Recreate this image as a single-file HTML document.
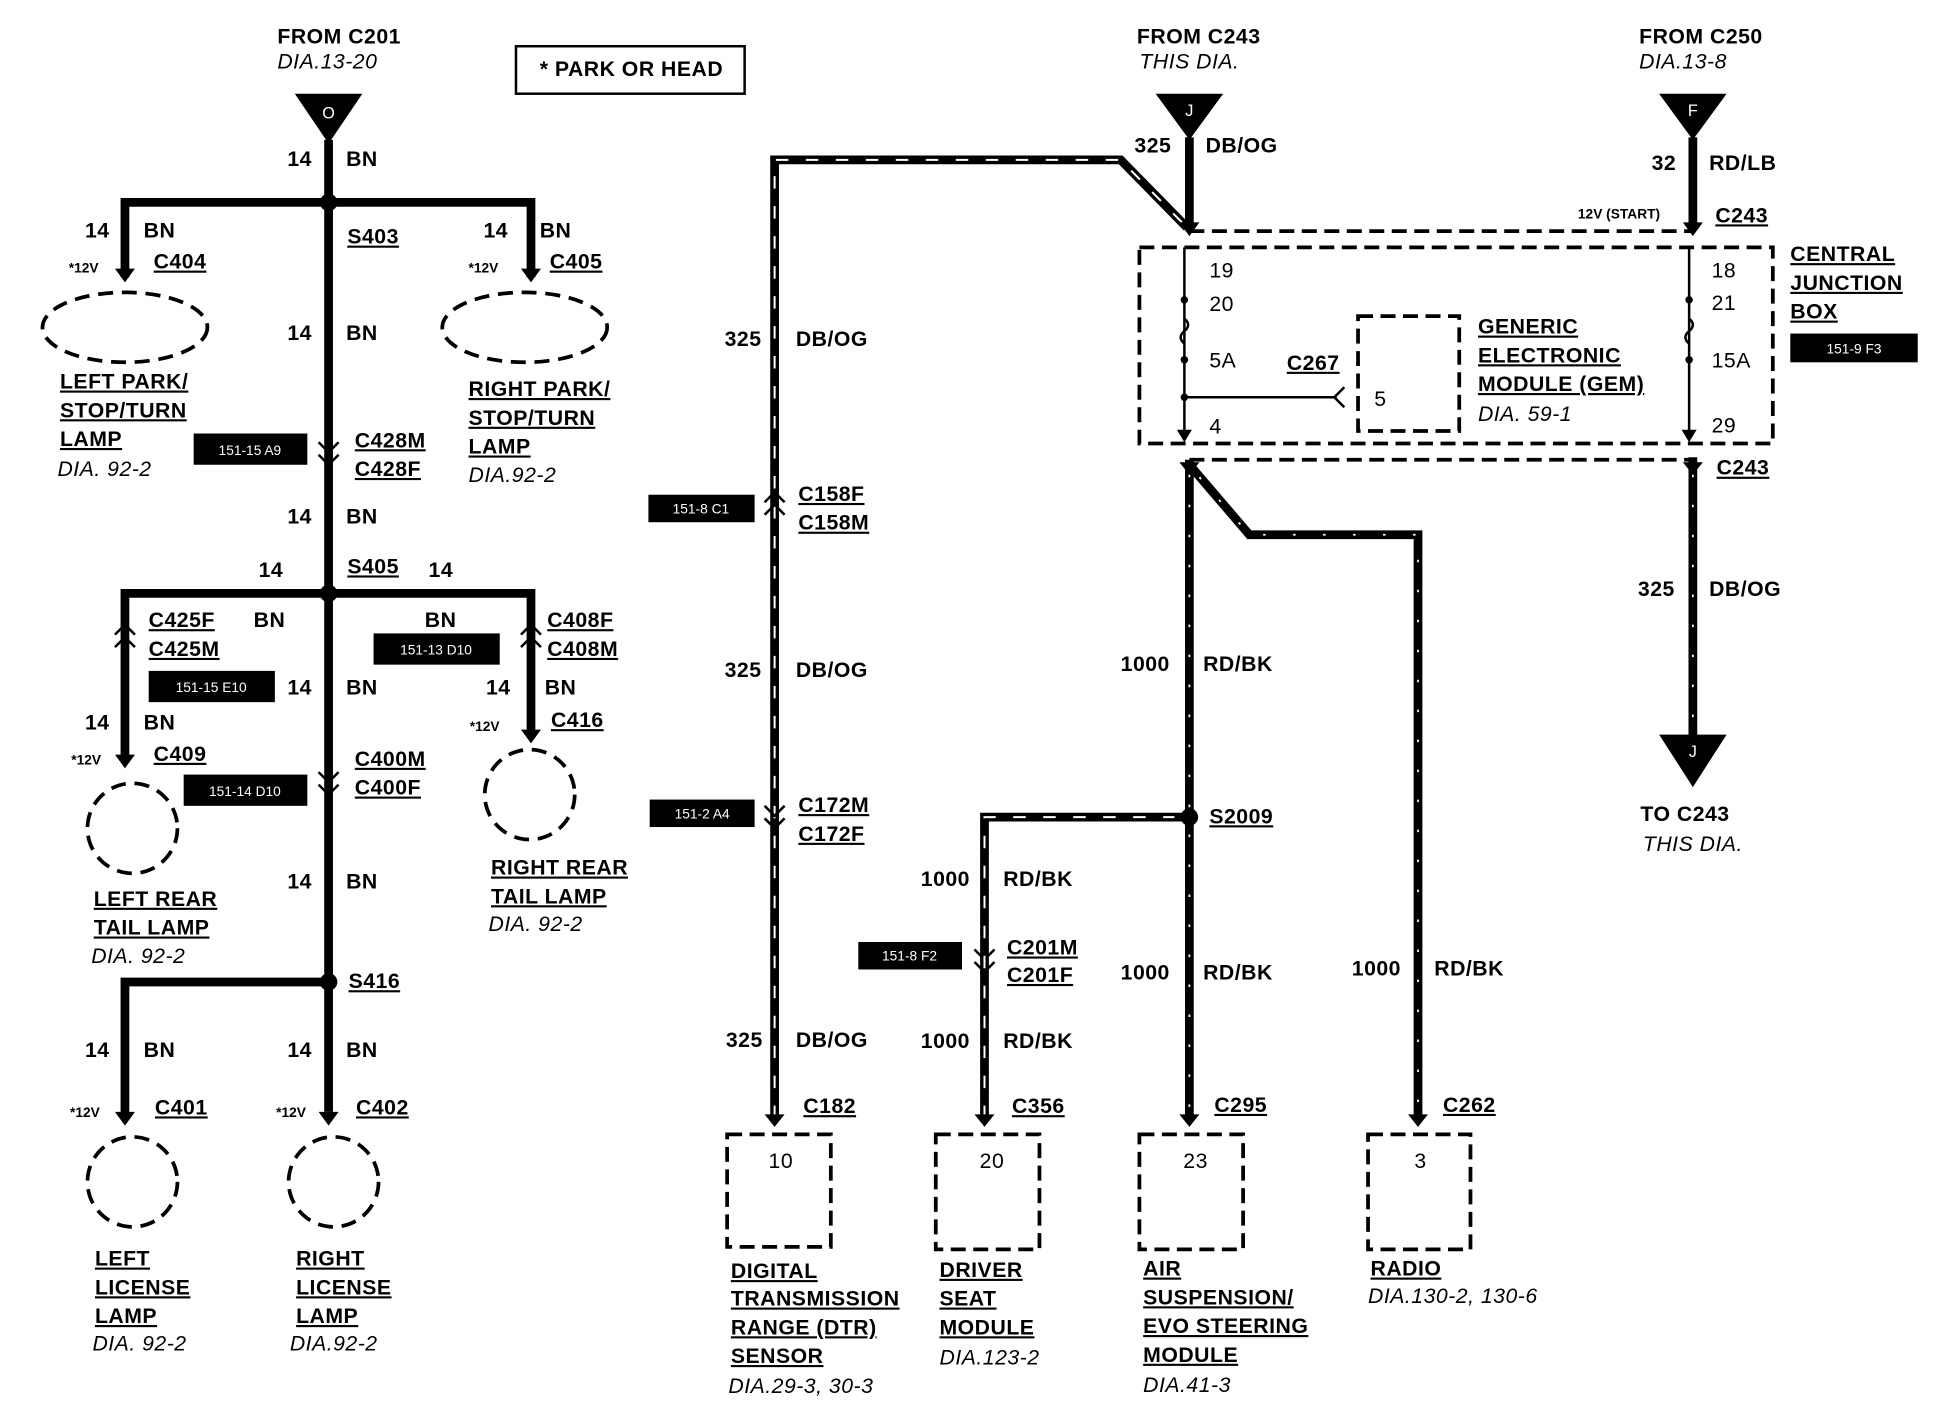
<!DOCTYPE html>
<html><head><meta charset="utf-8"><style>
html,body{margin:0;padding:0;background:#fff;}
svg{display:block}
text{font-family:"Liberation Sans",sans-serif;font-weight:bold;font-size:17px;letter-spacing:0.4px;fill:#000}
.i{font-style:italic;font-weight:normal}
.u{text-decoration:underline}
.s{font-size:11px;letter-spacing:0}
.w{fill:#fff;font-size:11px;font-weight:normal;letter-spacing:0}
.wire{stroke:#000;stroke-width:7;fill:none}
.dash{stroke:#fff;stroke-width:1.6;fill:none;stroke-dasharray:10 14}
.sl{stroke:#fff;stroke-width:1.4;fill:none;stroke-dasharray:2 22}
.db{stroke:#000;stroke-width:3;fill:none;stroke-dasharray:12 6}
.thin{stroke:#000;stroke-width:2;fill:none}
</style></head><body>
<svg width="1934" height="1408" viewBox="0 0 1548 1127" xmlns="http://www.w3.org/2000/svg">
<!-- LEFT SECTION -->
<text x="222" y="35">FROM C201</text>
<text x="222" y="55" class="i">DIA.13-20</text>
<polygon points="236,75 290,75 263,115" fill="#000"/>
<text x="263" y="95" class="w" text-anchor="middle" style="font-size:13px">O</text>
<rect x="413" y="37" width="183" height="38" fill="none" stroke="#000" stroke-width="2"/>
<text x="432" y="61">* PARK OR HEAD</text>

<path class="wire" d="M263 112 V890"/>
<path class="wire" d="M100 222 V162 H425 V222"/>
<circle cx="263" cy="162" r="7" fill="#000"/>
<path class="wire" d="M100 610 V475 H425 V590"/>
<circle cx="263" cy="475" r="7" fill="#000"/>
<path class="wire" d="M100 895 V786 H263"/>
<circle cx="263" cy="786" r="7" fill="#000"/>
<g fill="#000">
<polygon points="92,215 108,215 100,226"/><polygon points="417,215 433,215 425,226"/>
<polygon points="92,604 108,604 100,615"/><polygon points="417,584 433,584 425,595"/>
<polygon points="92,890 108,890 100,901"/><polygon points="255,890 271,890 263,901"/>
</g>
<g class="thin" stroke-width="2.5">
<path d="M255 354 L263 362 L271 354"/><path d="M255 364 L263 372 L271 364"/>
<path d="M255 618 L263 626 L271 618"/><path d="M255 628 L263 636 L271 628"/>
<path d="M92 508 L100 500 L108 508"/><path d="M92 518 L100 510 L108 518"/>
<path d="M417 508 L425 500 L433 508"/><path d="M417 518 L425 510 L433 518"/>
</g>

<text x="230" y="133">14</text><text x="277" y="133">BN</text>
<text x="68" y="190">14</text><text x="115" y="190">BN</text>
<text x="55" y="218" class="s">*12V</text><text x="123" y="215" class="u">C404</text>
<ellipse cx="100" cy="262" rx="66" ry="28" fill="none" stroke="#000" stroke-width="3" stroke-dasharray="12 7"/>
<text x="48" y="311" class="u">LEFT PARK/</text><text x="48" y="334" class="u">STOP/TURN</text><text x="48" y="357" class="u">LAMP</text>
<text x="46" y="381" class="i">DIA. 92-2</text>
<text x="278" y="195" class="u">S403</text>
<text x="387" y="190">14</text><text x="432" y="190">BN</text>
<text x="375" y="218" class="s">*12V</text><text x="440" y="215" class="u">C405</text>
<ellipse cx="420" cy="262" rx="66" ry="28" fill="none" stroke="#000" stroke-width="3" stroke-dasharray="12 7"/>
<text x="375" y="317" class="u">RIGHT PARK/</text><text x="375" y="340" class="u">STOP/TURN</text><text x="375" y="363" class="u">LAMP</text>
<text x="375" y="386" class="i">DIA.92-2</text>
<text x="230" y="272">14</text><text x="277" y="272">BN</text>
<rect x="155" y="347" width="91" height="25" fill="#000"/><text x="200" y="364" class="w" text-anchor="middle">151-15 A9</text>
<text x="284" y="358" class="u">C428M</text><text x="284" y="381" class="u">C428F</text>
<text x="230" y="419">14</text><text x="277" y="419">BN</text>
<text x="278" y="459" class="u">S405</text>
<text x="207" y="462">14</text><text x="343" y="462">14</text>
<text x="119" y="502" class="u">C425F</text><text x="119" y="525" class="u">C425M</text><text x="203" y="502">BN</text>
<rect x="119" y="537" width="101" height="25" fill="#000"/><text x="169" y="554" class="w" text-anchor="middle">151-15 E10</text>
<text x="230" y="556">14</text><text x="277" y="556">BN</text>
<text x="340" y="502">BN</text>
<rect x="299" y="507" width="101" height="25" fill="#000"/><text x="349" y="524" class="w" text-anchor="middle">151-13 D10</text>
<text x="438" y="502" class="u">C408F</text><text x="438" y="525" class="u">C408M</text>
<text x="389" y="556">14</text><text x="436" y="556">BN</text>
<text x="376" y="585" class="s">*12V</text><text x="441" y="582" class="u">C416</text>
<circle cx="424" cy="636" r="36" fill="none" stroke="#000" stroke-width="3" stroke-dasharray="12 7"/>
<text x="393" y="700" class="u">RIGHT REAR</text><text x="393" y="723" class="u">TAIL LAMP</text><text x="391" y="745" class="i">DIA. 92-2</text>
<text x="68" y="584">14</text><text x="115" y="584">BN</text>
<text x="57" y="612" class="s">*12V</text><text x="123" y="609" class="u">C409</text>
<circle cx="106" cy="663" r="36" fill="none" stroke="#000" stroke-width="3" stroke-dasharray="12 7"/>
<rect x="147" y="620" width="99" height="25" fill="#000"/><text x="196" y="637" class="w" text-anchor="middle">151-14 D10</text>
<text x="284" y="613" class="u">C400M</text><text x="284" y="636" class="u">C400F</text>
<text x="75" y="725" class="u">LEFT REAR</text><text x="75" y="748" class="u">TAIL LAMP</text><text x="73" y="771" class="i">DIA. 92-2</text>
<text x="230" y="711">14</text><text x="277" y="711">BN</text>
<text x="279" y="791" class="u">S416</text>
<text x="68" y="846">14</text><text x="115" y="846">BN</text><text x="230" y="846">14</text><text x="277" y="846">BN</text>
<text x="56" y="894" class="s">*12V</text><text x="124" y="892" class="u">C401</text>
<text x="221" y="894" class="s">*12V</text><text x="285" y="892" class="u">C402</text>
<circle cx="106" cy="946" r="36" fill="none" stroke="#000" stroke-width="3" stroke-dasharray="12 7"/>
<circle cx="267" cy="946" r="36" fill="none" stroke="#000" stroke-width="3" stroke-dasharray="12 7"/>
<text x="76" y="1013" class="u">LEFT</text><text x="76" y="1036" class="u">LICENSE</text><text x="76" y="1059" class="u">LAMP</text><text x="74" y="1081" class="i">DIA. 92-2</text>
<text x="237" y="1013" class="u">RIGHT</text><text x="237" y="1036" class="u">LICENSE</text><text x="237" y="1059" class="u">LAMP</text><text x="232" y="1081" class="i">DIA.92-2</text>

<!-- MIDDLE / RIGHT -->
<text x="910" y="35">FROM C243</text><text x="912" y="55" class="i">THIS DIA.</text>
<polygon points="925,75 979,75 952,112" fill="#000"/><text x="952" y="93" class="w" text-anchor="middle" style="font-size:13px">J</text>
<text x="1312" y="35">FROM C250</text><text x="1312" y="55" class="i">DIA.13-8</text>
<polygon points="1328,75 1382,75 1355,112" fill="#000"/><text x="1355" y="93" class="w" text-anchor="middle" style="font-size:13px">F</text>

<path class="wire" d="M620 895 V128 H897 L950 182"/><path class="dash" d="M620 895 V128 H897 L950 182"/>
<path class="wire" d="M952 110 V183"/>
<path class="wire" d="M1355 110 V183"/>
<polygon points="944,178 960,178 952,189" fill="#000"/><polygon points="1347,178 1363,178 1355,189" fill="#000"/>
<polygon points="612,892 628,892 620,902" fill="#000"/>
<g class="thin" stroke-width="2.5">
<path d="M612 402 L620 394 L628 402"/><path d="M612 412 L620 404 L628 412"/>
<path d="M612 645 L620 653 L628 645"/><path d="M612 655 L620 663 L628 655"/>
<path d="M780 760 L788 768 L796 760"/><path d="M780 770 L788 778 L796 770"/>
</g>
<text x="908" y="122">325</text><text x="965" y="122">DB/OG</text>
<text x="1322" y="136">32</text><text x="1368" y="136">RD/LB</text>
<text x="580" y="277">325</text><text x="637" y="277">DB/OG</text>
<text x="639" y="401" class="u">C158F</text><text x="639" y="424" class="u">C158M</text>
<rect x="519" y="396" width="85" height="22" fill="#000"/><text x="561" y="411" class="w" text-anchor="middle">151-8 C1</text>
<text x="580" y="542">325</text><text x="637" y="542">DB/OG</text>
<text x="639" y="650" class="u">C172M</text><text x="639" y="673" class="u">C172F</text>
<rect x="520" y="640" width="84" height="22" fill="#000"/><text x="562" y="655" class="w" text-anchor="middle">151-2 A4</text>
<text x="581" y="838">325</text><text x="637" y="838">DB/OG</text>
<text x="643" y="891" class="u">C182</text>
<rect x="582" y="908" width="83" height="90" class="db"/><text x="625" y="935" text-anchor="middle" style="font-weight:normal">10</text>
<text x="585" y="1023" class="u">DIGITAL</text><text x="585" y="1045" class="u">TRANSMISSION</text><text x="585" y="1068" class="u">RANGE (DTR)</text><text x="585" y="1091" class="u">SENSOR</text><text x="583" y="1115" class="i">DIA.29-3, 30-3</text>

<!-- Junction box -->
<path class="db" d="M952 185 H1355"/><path class="db" d="M952 368 H1355"/>
<rect x="912" y="198" width="507" height="157" class="db"/>
<path class="thin" d="M948 198 V350"/><polygon points="942,344 954,344 948,354" fill="#000"/>
<path class="thin" d="M1352 198 V350"/><polygon points="1346,344 1358,344 1352,354" fill="#000"/>
<circle cx="948" cy="240" r="3" fill="#000"/><circle cx="948" cy="288" r="3" fill="#000"/><circle cx="948" cy="318" r="3" fill="#000"/>
<circle cx="1352" cy="240" r="3" fill="#000"/><circle cx="1352" cy="288" r="3" fill="#000"/>
<path d="M948 255 q6 5 0 10 q-6 5 0 10" class="thin" fill="#fff"/>
<path d="M1352 255 q6 5 0 10 q-6 5 0 10" class="thin" fill="#fff"/>
<path class="thin" d="M948 318 H1070 M1076 310 L1068 318 L1076 326"/>
<text x="968" y="222" style="font-weight:normal">19</text><text x="968" y="249" style="font-weight:normal">20</text>
<text x="968" y="294" style="font-weight:normal">5A</text><text x="968" y="347" style="font-weight:normal">4</text>
<text x="1030" y="296" class="u">C267</text>
<rect x="1087" y="253" width="81" height="92" class="db"/><text x="1100" y="325" style="font-weight:normal">5</text>
<text x="1183" y="267" class="u">GENERIC</text><text x="1183" y="290" class="u">ELECTRONIC</text><text x="1183" y="313" class="u">MODULE (GEM)</text><text x="1183" y="337" class="i">DIA. 59-1</text>
<text x="1370" y="222" style="font-weight:normal">18</text><text x="1370" y="248" style="font-weight:normal">21</text>
<text x="1370" y="294" style="font-weight:normal">15A</text><text x="1370" y="346" style="font-weight:normal">29</text>
<text x="1263" y="175" class="s">12V (START)</text><text x="1373" y="178" class="u">C243</text>
<text x="1433" y="209" class="u">CENTRAL</text><text x="1433" y="232" class="u">JUNCTION</text><text x="1433" y="255" class="u">BOX</text>
<rect x="1433" y="267" width="102" height="23" fill="#000"/><text x="1484" y="283" class="w" text-anchor="middle">151-9 F3</text>

<path class="wire" d="M1355 366 V592"/><path class="sl" d="M1355 380 V592"/>
<polygon points="1347,370 1363,370 1355,380" fill="#000"/>
<polygon points="1328,588 1382,588 1355,630" fill="#000"/><text x="1355" y="606" class="w" text-anchor="middle" style="font-size:13px">J</text>
<text x="1374" y="380" class="u">C243</text>
<text x="1311" y="477">325</text><text x="1368" y="477">DB/OG</text>
<text x="1313" y="657">TO C243</text><text x="1315" y="681" class="i">THIS DIA.</text>

<path class="wire" d="M952 368 V895"/><path class="sl" d="M952 380 V895"/>
<path class="wire" d="M952 372 L1000 428 H1135 V895"/><path class="sl" d="M960 382 L1000 428 H1135 V895"/>
<path class="wire" d="M788 895 V654 H952"/><path class="dash" d="M788 895 V654 H940"/>
<circle cx="952" cy="654" r="7" fill="#000"/>
<polygon points="944,370 960,370 952,380" fill="#000"/>
<polygon points="780,892 796,892 788,902" fill="#000"/><polygon points="944,892 960,892 952,902" fill="#000"/><polygon points="1127,892 1143,892 1135,902" fill="#000"/>
<text x="897" y="537">1000</text><text x="963" y="537">RD/BK</text>
<text x="968" y="659" class="u">S2009</text>
<text x="737" y="709">1000</text><text x="803" y="709">RD/BK</text>
<text x="806" y="764" class="u">C201M</text><text x="806" y="786" class="u">C201F</text>
<rect x="687" y="754" width="83" height="22" fill="#000"/><text x="728" y="769" class="w" text-anchor="middle">151-8 F2</text>
<text x="737" y="839">1000</text><text x="803" y="839">RD/BK</text><text x="810" y="891" class="u">C356</text>
<text x="897" y="784">1000</text><text x="963" y="784">RD/BK</text><text x="972" y="890" class="u">C295</text>
<text x="1082" y="781">1000</text><text x="1148" y="781">RD/BK</text><text x="1155" y="890" class="u">C262</text>
<rect x="749" y="908" width="83" height="92" class="db"/><text x="794" y="935" text-anchor="middle" style="font-weight:normal">20</text>
<text x="752" y="1022" class="u">DRIVER</text><text x="752" y="1045" class="u">SEAT</text><text x="752" y="1068" class="u">MODULE</text><text x="752" y="1092" class="i">DIA.123-2</text>
<rect x="912" y="908" width="83" height="92" class="db"/><text x="957" y="935" text-anchor="middle" style="font-weight:normal">23</text>
<text x="915" y="1021" class="u">AIR</text><text x="915" y="1044" class="u">SUSPENSION/</text><text x="915" y="1067" class="u">EVO STEERING</text><text x="915" y="1090" class="u">MODULE</text><text x="915" y="1114" class="i">DIA.41-3</text>
<rect x="1095" y="908" width="82" height="92" class="db"/><text x="1137" y="935" text-anchor="middle" style="font-weight:normal">3</text>
<text x="1097" y="1021" class="u">RADIO</text><text x="1095" y="1043" class="i">DIA.130-2, 130-6</text>
</svg>
</body></html>
